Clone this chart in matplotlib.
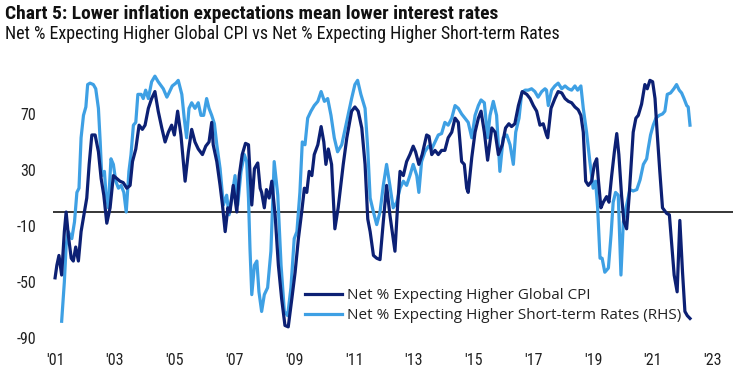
import matplotlib
matplotlib.use("Agg")
import matplotlib.pyplot as plt
from matplotlib import font_manager
from matplotlib.font_manager import FontProperties

# Net % expecting higher global CPI (dark)
cpi_year = [2001.00, 2001.06, 2001.13, 2001.22, 2001.31, 2001.37, 2001.44, 2001.54, 2001.61, 2001.69,
            2001.78, 2001.87, 2001.98, 2002.06, 2002.14, 2002.23, 2002.34, 2002.45, 2002.54, 2002.63,
            2002.73, 2002.84, 2002.95, 2003.06, 2003.17, 2003.28, 2003.40, 2003.51, 2003.59, 2003.70,
            2003.81, 2003.92, 2004.01, 2004.12, 2004.23, 2004.34, 2004.45, 2004.57, 2004.68, 2004.79,
            2004.90, 2004.99, 2005.10, 2005.21, 2005.35, 2005.46, 2005.57, 2005.68, 2005.79, 2005.93,
            2006.04, 2006.15, 2006.24, 2006.29, 2006.41, 2006.52, 2006.60, 2006.69, 2006.78, 2006.85,
            2006.96, 2007.08, 2007.16, 2007.26, 2007.37, 2007.47, 2007.58, 2007.67, 2007.78, 2007.86,
            2007.91, 2008.00, 2008.07, 2008.16, 2008.25, 2008.36, 2008.47, 2008.58, 2008.69, 2008.80,
            2008.92, 2009.03, 2009.14, 2009.25, 2009.34, 2009.42, 2009.50, 2009.59, 2009.67, 2009.79,
            2009.90, 2009.99, 2010.06, 2010.14, 2010.25, 2010.36, 2010.47, 2010.64, 2010.76, 2010.92,
            2011.03, 2011.14, 2011.26, 2011.37, 2011.46, 2011.54, 2011.65, 2011.76, 2011.87, 2011.98,
            2012.09, 2012.20, 2012.31, 2012.37, 2012.46, 2012.54, 2012.65, 2012.76, 2012.87, 2012.98,
            2013.06, 2013.17, 2013.28, 2013.43, 2013.51, 2013.60, 2013.71, 2013.82, 2013.93, 2014.04,
            2014.15, 2014.27, 2014.38, 2014.49, 2014.60, 2014.69, 2014.77, 2014.82, 2014.94, 2015.05,
            2015.16, 2015.25, 2015.36, 2015.47, 2015.61, 2015.72, 2015.83, 2015.96, 2016.07, 2016.18,
            2016.27, 2016.38, 2016.50, 2016.63, 2016.78, 2016.89, 2017.00, 2017.11, 2017.22, 2017.33,
            2017.44, 2017.48, 2017.59, 2017.72, 2017.83, 2017.95, 2018.06, 2018.17, 2018.28, 2018.39,
            2018.50, 2018.59, 2018.67, 2018.75, 2018.84, 2018.95, 2019.04, 2019.12, 2019.17, 2019.26,
            2019.34, 2019.45, 2019.53, 2019.62, 2019.71, 2019.79, 2019.86, 2019.95, 2020.03, 2020.12,
            2020.20, 2020.27, 2020.34, 2020.43, 2020.51, 2020.62, 2020.73, 2020.81, 2020.90, 2020.99,
            2021.07, 2021.14, 2021.23, 2021.32, 2021.46, 2021.55, 2021.63, 2021.71, 2021.81, 2021.90,
            2021.99, 2022.07, 2022.15, 2022.24]
cpi_net = [-47, -38, -31, -45, -14, 0, -16, -33, -35, -25,
           -35, -14, 0, 10, 34, 55, 55, 43, 24, 12,
           -8, 3, 26, 24, 22, 21, 17, 19, 36, 45,
           62, 59, 62, 74, 81, 86, 72, 60, 50, 57,
           62, 55, 72, 55, 22, 43, 59, 50, 45, 41,
           47, 50, 64, 48, 36, 19, 5, -14, 3, 0,
           19, 0, 26, 41, 49, 48, 5, 31, 35, 17,
           14, 3, 16, 10, 22, -2, -38, -62, -81, -82,
           -62, -43, -19, 0, 17, 14, 29, 26, 41, 48,
           61, 50, 34, 45, 34, -12, 3, 34, 53, 72,
           75, 72, 60, 34, -5, -14, -31, -33, -34, -7,
           19, -2, -19, -28, 5, 29, 26, 36, 41, 47,
           43, 34, 41, 55, 54, 41, 44, 41, 44, 44,
           53, 57, 67, 64, 36, 34, 17, 14, 39, 57,
           67, 72, 57, 37, 60, 57, 41, 48, 60, 63,
           61, 63, 76, 86, 84, 81, 76, 72, 62, 63,
           55, 53, 74, 81, 86, 85, 81, 79, 78, 75,
           73, 69, 57, 22, 19, 22, 34, 38, 24, 3,
           7, 11, 7, 26, 43, 56, 41, 12, -7, -12,
           10, 34, 57, 67, 69, 77, 91, 88, 94, 93,
           81, 57, 29, 3, -1, -2, -24, -45, -57, -6,
           -43, -71, -74, -76]

# Net % expecting higher short-term rates (light, RHS)
rates_year = [2001.22, 2001.31, 2001.37, 2001.44, 2001.56, 2001.65, 2001.73, 2001.80, 2001.87, 2001.95,
              2002.03, 2002.09, 2002.17, 2002.28, 2002.36, 2002.45, 2002.51, 2002.56, 2002.65, 2002.70,
              2002.78, 2002.87, 2002.95, 2003.03, 2003.12, 2003.21, 2003.30, 2003.38, 2003.47, 2003.54,
              2003.62, 2003.70, 2003.77, 2003.88, 2003.95, 2004.03, 2004.12, 2004.23, 2004.34, 2004.45,
              2004.62, 2004.74, 2004.81, 2004.92, 2005.04, 2005.12, 2005.24, 2005.32, 2005.40, 2005.48,
              2005.57, 2005.68, 2005.79, 2005.88, 2005.97, 2006.07, 2006.15, 2006.24, 2006.33, 2006.41,
              2006.52, 2006.63, 2006.74, 2006.82, 2006.91, 2007.02, 2007.11, 2007.22, 2007.33, 2007.41,
              2007.47, 2007.52, 2007.58, 2007.67, 2007.75, 2007.82, 2007.91, 2008.00, 2008.11, 2008.22,
              2008.33, 2008.45, 2008.56, 2008.67, 2008.78, 2008.89, 2009.00, 2009.09, 2009.19, 2009.27,
              2009.36, 2009.45, 2009.56, 2009.67, 2009.79, 2009.90, 2010.01, 2010.12, 2010.23, 2010.34,
              2010.45, 2010.59, 2010.70, 2010.83, 2010.92, 2011.03, 2011.12, 2011.23, 2011.37, 2011.46,
              2011.54, 2011.65, 2011.76, 2011.87, 2011.98, 2012.09, 2012.20, 2012.31, 2012.43, 2012.54,
              2012.65, 2012.76, 2012.87, 2012.98, 2013.10, 2013.17, 2013.26, 2013.37, 2013.49, 2013.60,
              2013.71, 2013.82, 2013.93, 2014.04, 2014.15, 2014.27, 2014.38, 2014.49, 2014.60, 2014.71,
              2014.82, 2014.94, 2015.05, 2015.16, 2015.25, 2015.36, 2015.47, 2015.55, 2015.66, 2015.77,
              2015.88, 2015.99, 2016.11, 2016.22, 2016.33, 2016.41, 2016.52, 2016.61, 2016.72, 2016.83,
              2016.94, 2017.05, 2017.16, 2017.28, 2017.39, 2017.44, 2017.50, 2017.61, 2017.72, 2017.83,
              2017.95, 2018.06, 2018.17, 2018.28, 2018.39, 2018.48, 2018.59, 2018.67, 2018.78, 2018.89,
              2019.00, 2019.08, 2019.15, 2019.23, 2019.30, 2019.39, 2019.51, 2019.60, 2019.67, 2019.75,
              2019.84, 2019.93, 2020.01, 2020.12, 2020.23, 2020.34, 2020.46, 2020.57, 2020.68, 2020.79,
              2020.84, 2020.92, 2021.01, 2021.10, 2021.21, 2021.32, 2021.40, 2021.48, 2021.59, 2021.70,
              2021.79, 2021.88, 2021.96, 2022.04, 2022.13, 2022.18, 2022.24]
rates_net = [-78, -50, -24, -14, -19, -7, 14, 17, 53, 69,
             75, 91, 92, 91, 88, 74, 50, 26, 29, 14,
             3, 38, 34, 22, 17, 19, 14, 0, 29, 41,
             62, 64, 84, 84, 81, 87, 81, 93, 97, 93,
             88, 82, 85, 90, 92, 94, 84, 67, 53, 74,
             78, 74, 78, 69, 69, 81, 74, 69, 63, 48,
             31, 5, 12, -2, 10, 26, 5, 29, 41, 36,
             10, -26, -59, -38, -35, -57, -71, -59, -54, -28,
             36, 12, -38, -71, -74, -54, -19, -14, 14, 50,
             48, 67, 72, 76, 79, 86, 79, 81, 69, 53,
             43, 48, 59, 72, 81, 91, 94, 84, 74, 45,
             10, 0, -9, 0, 19, 34, 19, 3, 7, 17,
             22, 19, 26, 34, 26, 14, 36, 43, 47, 45,
             50, 55, 56, 64, 62, 67, 76, 74, 70, 67,
             64, 53, 69, 76, 80, 78, 53, 69, 79, 69,
             29, 53, 55, 48, 34, 57, 67, 85, 87, 87,
             88, 86, 82, 86, 88, 87, 76, 87, 90, 92,
             88, 90, 88, 87, 90, 87, 90, 74, 57, 36,
             17, 22, 3, -33, -33, -43, -40, -16, 7, 14,
             12, -45, -7, 5, 16, 15, 16, 23, 34, 38,
             45, 55, 62, 67, 69, 70, 72, 84, 85, 88,
             91, 87, 85, 81, 76, 75, 62]

tick_years = list(range(2001, 2024, 2))
tick_labels = ["'%02d" % (y % 100) for y in tick_years]
y_ticks = [-90, -50, -10, 30, 70]

DARK = "#0c2074"
LIGHT = "#3ea0e4"


def narrow_font(bold):
    """Look for a condensed/narrow face on the box; fall back to a plain family."""
    prefs = ["Liberation Sans Narrow", "Roboto Condensed", "Open Sans Condensed",
             "Noto Sans Condensed", "DejaVu Sans", "Noto Sans", "Open Sans", "Roboto"]
    hits = []
    for f in font_manager.fontManager.ttflist:
        squeezed = ("Narrow" in f.name or "Condensed" in f.name
                    or str(f.stretch) in ("condensed", "semi-condensed", "extra-condensed")
                    or "ondensed" in f.fname)
        if not squeezed or f.style != "normal" or "SemiCondensed" in f.fname:
            continue
        w = f.weight if isinstance(f.weight, int) else {"bold": 700}.get(f.weight, 400)
        if bold and w == 700 or (not bold and w == 400):
            base = next((p for p in prefs if f.name.startswith(p)), None)
            rank = prefs.index(base) if base else len(prefs)
            hits.append((rank, f.fname))
    if hits:
        return FontProperties(fname=sorted(hits)[0][1]), True
    return FontProperties(family="Lato", weight="bold" if bold else "normal"), False


fp_title, cond_t = narrow_font(True)
fp_reg, cond_r = narrow_font(False)
plain = "Open Sans"

fig = plt.figure(figsize=(7.4, 3.82), dpi=100)
ax = fig.add_axes([0.0716, 0.115, 0.919, 0.715])

ax.plot(cpi_year, cpi_net, color=DARK, lw=2.3, solid_joinstyle="round",
        label="Net % Expecting Higher Global CPI", zorder=3)
ax.plot(rates_year, rates_net, color=LIGHT, lw=2.3, solid_joinstyle="round",
        label="Net % Expecting Higher Short-term Rates (RHS)", zorder=2)
ax.axhline(0, color="black", lw=1.1, zorder=1)

ax.set_xlim(2000.93, 2023.68)
ax.set_ylim(-90, 105)
ax.set_xticks(tick_years)
ax.set_yticks(y_ticks)
tick_fp = fp_reg.copy()
tick_fp.set_size(11.5 if cond_r else 10)
ax.set_xticklabels(tick_labels, fontproperties=tick_fp)
ax.set_yticklabels([str(v) for v in y_ticks], fontproperties=tick_fp)
ax.tick_params(axis="x", length=0, pad=11, colors="#222222")
ax.tick_params(axis="y", length=0, pad=12, colors="#222222")
for s in ax.spines.values():
    s.set_visible(False)

leg = ax.legend(loc="upper left", bbox_to_anchor=(0.371, 0.183), frameon=False,
                borderpad=0, borderaxespad=0, handlelength=2.4, handletextpad=0.3,
                labelspacing=0.35, prop={"family": plain, "size": 11})
for t in leg.get_texts():
    t.set_color("#222222")

t_fp = fp_title.copy()
t_fp.set_size(14 if cond_t else 11.3)
s_fp = fp_reg.copy()
s_fp.set_size(13 if cond_r else 11)
fig.text(0.007, 0.963, "Chart 5: Lower inflation expectations mean lower interest rates",
         fontproperties=t_fp, va="center", color="#111111")
fig.text(0.007, 0.912, "Net % Expecting Higher Global CPI vs Net % Expecting Higher Short-term Rates",
         fontproperties=s_fp, va="center", color="#111111")

fig.savefig("out.png", dpi=100)
